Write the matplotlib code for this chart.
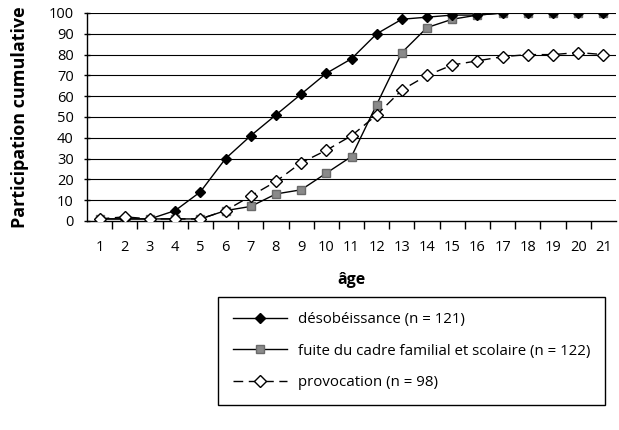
import numpy as np
import matplotlib
matplotlib.use('Agg')
import matplotlib.pyplot as plt
from matplotlib.ticker import FixedLocator

# Cumulative participation (%) by age
ages = list(range(1, 22))
desobeissance = [1, 1, 1, 5, 14, 30, 41, 51, 61, 71, 78, 90, 97, 98, 99, 99, 100, 100, 100, 100, 100]
fuite = [1, 1, 1, 1, 1, 5, 7, 13, 15, 23, 31, 56, 81, 93, 97, 99, 100, 100, 100, 100, 100]
provocation = [1, 2, 1, 1, 1, 5, 12, 19, 28, 34, 41, 51, 63, 70, 75, 77, 79, 80, 80, 81, 80]

labels = ['désobéissance (n = 121)',
          'fuite du cadre familial et scolaire (n = 122)',
          'provocation (n = 98)']
yticks = list(range(0, 101, 10))

plt.rcParams['font.family'] = ['Open Sans', 'DejaVu Sans']

fig = plt.figure(figsize=(6.19, 4.30), dpi=100)
ax = fig.add_axes([87 / 619, 1 - 221 / 430, 529 / 619, 208 / 430])

# horizontal grid lines
for v in yticks[1:]:
    ax.axhline(v, color='black', lw=0.8, zorder=1)

l1, = ax.plot(ages, desobeissance, color='black', lw=1, marker='D', ms=5.5,
              mfc='black', mec='black', zorder=4)
l2, = ax.plot(ages, fuite, color='black', lw=1, marker='s', ms=5.5,
              mfc='#8a8a8a', mec='#6a6a6a', zorder=3)
l3, = ax.plot(ages, provocation, color='black', lw=1, ls=(0, (7, 4)), marker='D', ms=6.5,
              mfc='white', mec='black', zorder=5)

ax.set_xlim(0.5, 21.5)
ax.set_ylim(0, 100)
ax.set_yticks(yticks)
ax.set_xticks(ages)
ax.xaxis.set_minor_locator(FixedLocator(np.arange(1.5, 21.5, 1)))
ax.tick_params(axis='x', which='major', length=0, pad=14, labelsize=10.5)
ax.tick_params(axis='x', which='minor', length=6, width=1, direction='out')
ax.tick_params(axis='y', length=5, width=1, direction='inout', labelsize=10.5, pad=7)

for side in ['top', 'right']:
    ax.spines[side].set_visible(False)
ax.spines['left'].set_linewidth(1)
ax.spines['bottom'].set_linewidth(1)

ax.set_ylabel('Participation cumulative', fontsize=13, fontweight='bold', labelpad=14)
ax.set_xlabel('âge', fontsize=11.5, fontweight='bold', labelpad=12)

leg = fig.legend([l1, l2, l3], labels, loc='upper left',
                 bbox_to_anchor=(218 / 619, 1 - 297 / 430), fontsize=10.8,
                 handlelength=3.6, handletextpad=0.7, labelspacing=1.1,
                 borderpad=1.0, borderaxespad=0, fancybox=False, framealpha=1)
leg.get_frame().set_edgecolor('black')
leg.get_frame().set_linewidth(1)

fig.savefig('out.png', dpi=100)
